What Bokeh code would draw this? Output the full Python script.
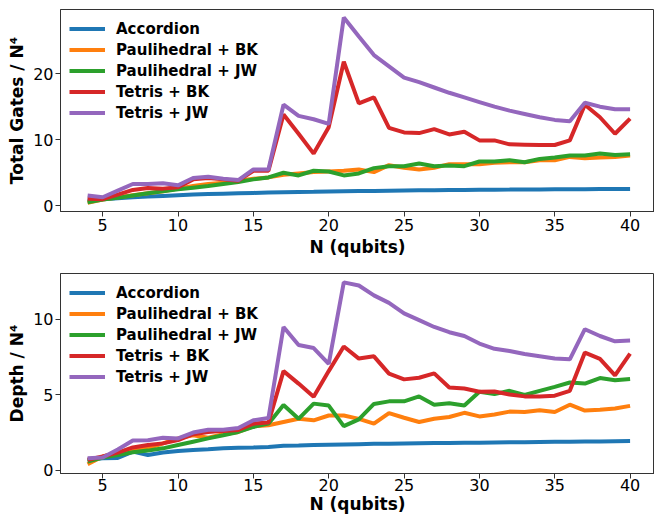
from bokeh.plotting import figure
from bokeh.models import Range1d, FixedTicker, Legend, LegendItem, ColumnDataSource
from bokeh.layouts import column
from bokeh.embed import file_html
from bokeh.resources import INLINE

N = list(range(4, 41))

series_names = ["Accordion", "Paulihedral + BK", "Paulihedral + JW", "Tetris + BK", "Tetris + JW"]
colors = ["#1f77b4", "#ff7f0e", "#2ca02c", "#d62728", "#9467bd"]

# Total Gates / N^4
gates_accordion = [0.8, 1.0, 1.15, 1.3, 1.4, 1.5, 1.6, 1.7, 1.77, 1.84, 1.9, 1.95, 2.0, 2.05, 2.1, 2.13, 2.17,
                   2.2, 2.23, 2.26, 2.29, 2.32, 2.34, 2.36, 2.38, 2.4, 2.42, 2.44, 2.45, 2.47, 2.48, 2.5, 2.51,
                   2.52, 2.53, 2.54, 2.55]
gates_pauli_bk = [0.45, 0.95, 1.3, 1.6, 1.9, 2.2, 2.6, 3.0, 3.3, 3.5, 3.8, 4.1, 4.3, 4.7, 4.9, 5.1, 5.2,
                  5.3, 5.5, 5.1, 6.15, 5.75, 5.5, 5.75, 6.3, 6.3, 6.3, 6.5, 6.6, 6.6, 6.9, 6.9, 7.4,
                  7.2, 7.3, 7.4, 7.6]
gates_pauli_jw = [0.55, 0.95, 1.2, 1.56, 1.9, 2.2, 2.5, 2.75, 3.0, 3.3, 3.6, 4.0, 4.3, 5.0, 4.6, 5.3, 5.2,
                  4.6, 4.9, 5.7, 6.0, 6.0, 6.4, 6.0, 6.1, 6.0, 6.7, 6.7, 6.9, 6.6, 7.1, 7.3, 7.6,
                  7.6, 7.9, 7.7, 7.8]
gates_tetris_bk = [1.06, 1.0, 1.7, 2.4, 2.7, 2.6, 2.8, 4.0, 4.2, 4.0, 3.8, 5.3, 5.3, 13.8, 10.9, 7.9, 11.9,
                   21.8, 15.5, 16.4, 11.8, 11.1, 11.0, 11.6, 10.8, 11.2, 9.9, 9.9, 9.3, 9.25, 9.2, 9.2, 9.9,
                   15.3, 13.4, 10.9, 13.2]
gates_tetris_jw = [1.56, 1.3, 2.3, 3.3, 3.3, 3.4, 3.1, 4.2, 4.4, 4.1, 3.9, 5.5, 5.5, 15.3, 13.6, 13.1, 12.4,
                   28.5, 25.6, 22.8, 21.1, 19.4, 18.7, 17.9, 17.1, 16.4, 15.7, 15.0, 14.4, 13.9, 13.4, 13.0, 12.8,
                   15.6, 15.0, 14.6, 14.6]

# Depth / N^4
depth_accordion = [0.68, 0.79, 0.8, 1.22, 1.0, 1.16, 1.27, 1.33, 1.38, 1.44, 1.48, 1.5, 1.53, 1.61, 1.63, 1.66, 1.68,
                   1.7, 1.72, 1.74, 1.75, 1.77, 1.78, 1.79, 1.8, 1.81, 1.82, 1.83, 1.84, 1.85, 1.86, 1.87, 1.88,
                   1.89, 1.9, 1.91, 1.92]
depth_pauli_bk = [0.39, 0.9, 1.16, 1.33, 1.44, 1.77, 2.1, 2.31, 2.14, 2.38, 2.53, 2.9, 2.97, 3.19, 3.4, 3.3, 3.62,
                  3.62, 3.4, 3.08, 3.78, 3.47, 3.19, 3.4, 3.52, 3.8, 3.56, 3.69, 3.88, 3.85, 3.97, 3.85, 4.34,
                  3.95, 4.0, 4.08, 4.26]
depth_pauli_jw = [0.57, 0.83, 1.0, 1.18, 1.29, 1.44, 1.66, 1.88, 2.1, 2.31, 2.53, 2.86, 3.08, 4.32, 3.4, 4.41, 4.28,
                  2.92, 3.36, 4.39, 4.56, 4.56, 4.89, 4.34, 4.43, 4.28, 5.2, 5.04, 5.26, 4.98, 5.26, 5.52, 5.81,
                  5.74, 6.11, 5.96, 6.05]
depth_tetris_bk = [0.68, 0.9, 1.16, 1.5, 1.66, 1.77, 1.99, 2.38, 2.53, 2.6, 2.66, 3.08, 3.15, 6.57, 5.74, 4.87, 6.57,
                   8.2, 7.4, 7.55, 6.4, 6.02, 6.13, 6.42, 5.48, 5.41, 5.2, 5.22, 5.02, 4.89, 4.89, 4.94, 5.26,
                   7.8, 7.38, 6.29, 7.73]
depth_tetris_jw = [0.79, 0.83, 1.37, 1.96, 1.98, 2.14, 2.1, 2.49, 2.68, 2.68, 2.79, 3.3, 3.45, 9.5, 8.3, 8.1, 7.05,
                   12.46, 12.25, 11.6, 11.1, 10.4, 9.95, 9.5, 9.15, 8.9, 8.4, 8.05, 7.9, 7.7, 7.55, 7.4, 7.35,
                   9.35, 8.9, 8.55, 8.6]

x_ticks = [5, 10, 15, 20, 25, 30, 35, 40]
gates_ticks = [0, 10, 20]
depth_ticks = [0, 5, 10]

FONT = "DejaVu Sans"


def make_plot(series, ylabel, y_range, yticks, height, top_border, bottom_border,
              tick_standoff, label_standoff, line_h):
    p = figure(width=654, height=height, output_backend="svg", toolbar_location=None,
               x_range=Range1d(2.2, 41.62), y_range=Range1d(*y_range),
               min_border_left=60, min_border_right=0, min_border_top=top_border,
               min_border_bottom=bottom_border)
    p.grid.visible = False
    p.outline_line_color = "#333333"
    p.outline_line_width = 1
    p.background_fill_color = "white"
    items = []
    for name, col, ys in zip(series_names, colors, series):
        src = ColumnDataSource(dict(x=N, y=ys))
        r = p.line("x", "y", source=src, line_color=col, line_width=4)
        items.append(LegendItem(label=name, renderers=[r]))
    legend = Legend(items=items, location="top_left")
    legend.label_text_font = FONT
    legend.label_text_font_style = "bold"
    legend.label_text_font_size = "15px"
    legend.label_text_color = "black"
    legend.glyph_width = 36
    legend.glyph_height = 21
    legend.label_height = 21
    legend.label_standoff = 11
    legend.spacing = 0
    legend.padding = 8
    legend.margin = 1
    legend.border_line_color = "white"
    legend.border_line_alpha = 0
    legend.background_fill_alpha = 0.8
    p.add_layout(legend)

    for ax in (p.xaxis[0], p.yaxis[0]):
        ax.major_label_text_font = FONT
        ax.major_label_text_font_size = "16px"
        ax.major_label_text_color = "black"
        ax.axis_label_text_font = FONT
        ax.axis_label_text_font_style = "bold"
        ax.axis_label_text_font_size = "17px"
        ax.axis_label_text_color = "black"
        ax.minor_tick_line_color = None
        ax.major_tick_in = 0
        ax.major_tick_out = 5
        ax.axis_line_color = "#333333"
        ax.major_tick_line_color = "#333333"
        ax.major_label_standoff = 2
        ax.axis_label_standoff = 3
    xa = p.xaxis[0]
    xa.major_label_standoff = tick_standoff
    xa.axis_label_standoff = label_standoff
    xa.major_label_text_line_height = line_h
    xa.axis_label_text_line_height = line_h
    p.xaxis.ticker = FixedTicker(ticks=x_ticks)
    p.yaxis.ticker = FixedTicker(ticks=yticks)
    p.xaxis.axis_label = "N (qubits)"
    p.yaxis.axis_label = ylabel
    return p


p1 = make_plot([gates_accordion, gates_pauli_bk, gates_pauli_jw, gates_tetris_bk, gates_tetris_jw],
               "Total Gates / N\u2074", (-0.86, 29.7), gates_ticks, 262, 9, 51, 2, 3, 1.0)
p2 = make_plot([depth_accordion, depth_pauli_bk, depth_pauli_jw, depth_tetris_bk, depth_tetris_jw],
               "Depth / N\u2074", (-0.23, 13.05), depth_ticks, 254, 11, 40, 0, 0, 0.85)

layout = column(p1, p2, spacing=0)
open("out.html", "w").write(file_html(layout, INLINE))
